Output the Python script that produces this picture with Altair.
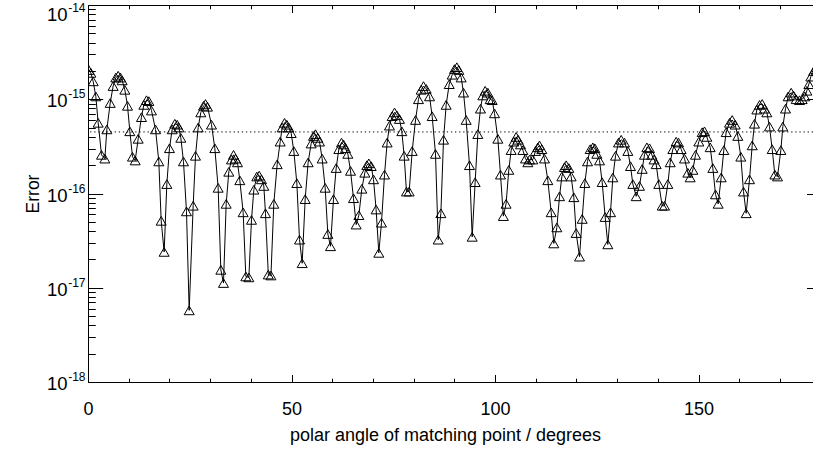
import altair as alt
import pandas as pd

# polar angle of matching point (degrees)
angles = [
    0.20, 0.70, 1.27, 1.92, 2.50, 3.32, 4.14, 4.63, 5.45, 6.18, 6.84, 7.41, 7.99, 8.39,
    9.05, 9.71, 10.28, 10.93, 11.59, 12.33, 13.14, 13.72, 14.37, 14.95, 15.60, 16.59,
    17.40, 17.98, 18.71, 19.37, 20.02, 20.68, 21.33, 21.91, 22.32, 22.81, 23.46, 24.20,
    24.86, 25.84, 26.41, 27.07, 27.72, 28.38, 28.87, 29.36, 30.34, 31.16, 31.98, 32.64,
    33.29, 33.95, 34.60, 35.26, 35.75, 36.24, 36.73, 37.30, 38.12, 38.78, 39.52, 40.17,
    40.75, 41.48, 42.06, 42.63, 43.20, 43.61, 44.30, 44.95, 45.65, 46.48, 47.22, 47.71,
    48.28, 48.85, 49.34, 49.92, 50.57, 51.31, 51.97, 52.62, 53.36, 54.09, 54.83, 55.40,
    55.89, 56.47, 56.88, 57.53, 58.27, 58.93, 59.58, 60.32, 60.98, 61.63, 62.29, 62.78,
    63.27, 63.84, 64.50, 65.23, 65.89, 66.55, 67.28, 68.02, 68.51, 69.00, 69.58, 70.15,
    70.79, 71.45, 72.11, 72.85, 73.50, 74.07, 74.73, 75.31, 75.88, 76.53, 77.10, 77.68,
    78.25, 78.91, 79.65, 80.47, 81.20, 81.86, 82.43, 83.09, 83.91, 84.56, 85.38, 86.04,
    86.70, 87.35, 88.00, 88.75, 89.48, 90.05, 90.62, 91.11, 91.69, 92.26, 92.91, 93.73,
    94.39, 95.12, 95.78, 96.43, 97.01, 97.58, 98.24, 98.81, 99.30, 99.88, 100.70, 101.35,
    102.05, 102.72, 103.39, 103.97, 104.62, 105.20, 105.69, 106.26, 106.84, 107.49, 108.07,
    108.48, 109.29, 109.95, 110.52, 110.93, 111.50, 112.16, 112.98, 113.80, 114.45, 115.19,
    115.85, 116.42, 117.08, 117.49, 118.14, 118.71, 119.37, 119.94, 120.76, 121.42, 122.07,
    122.73, 123.38, 124.04, 124.53, 125.02, 125.68, 126.33, 127.07, 127.72, 128.38, 128.95,
    129.61, 130.34, 131.00, 131.82, 132.64, 133.29, 133.87, 134.69, 135.50, 136.16, 136.73,
    137.31, 137.96, 138.53, 139.07, 139.60, 140.25, 141.07, 141.65, 142.46, 143.04, 143.69,
    144.51, 145.09, 145.74, 146.56, 147.38, 147.95, 148.61, 149.26, 150.08, 150.90, 151.47,
    152.05, 152.87, 153.52, 154.18, 154.83, 155.57, 156.22, 156.80, 157.62, 158.27, 159.01,
    159.66, 160.40, 161.06, 161.71, 162.53, 163.19, 163.76, 164.33, 164.99, 165.64, 166.22,
    166.79, 167.44, 168.10, 168.76, 169.41, 170.23, 170.72, 171.38, 172.03, 172.77, 173.34,
    174.00, 174.82, 175.47, 176.13, 176.62, 177.11, 177.60, 178.30, 179.00, 179.70,
]

# log10 of the error at each matching point
log_error = [
    -14.69, -14.72, -14.81, -14.97, -15.25, -15.59, -15.63, -15.32, -15.04, -14.86, -14.77, -14.75, -14.77, -14.80,
    -14.90, -15.07, -15.34, -15.61, -15.65, -15.42, -15.19, -15.06, -15.01, -15.02, -15.12, -15.32,
    -15.66, -16.29, -16.62, -15.90, -15.52, -15.32, -15.26, -15.27, -15.30, -15.41, -15.66, -16.19,
    -17.24, -16.13, -15.60, -15.30, -15.14, -15.07, -15.05, -15.08, -15.27, -15.52, -15.94, -16.81,
    -16.95, -16.11, -15.77, -15.64, -15.59, -15.63, -15.67, -15.86, -16.20, -16.88, -16.89, -16.28,
    -15.96, -15.82, -15.81, -15.85, -15.92, -16.21, -16.86, -16.87, -16.11, -15.69, -15.45, -15.30,
    -15.25, -15.27, -15.30, -15.36, -15.55, -15.89, -16.49, -16.74, -16.06, -15.67, -15.47, -15.39,
    -15.37, -15.41, -15.45, -15.63, -15.94, -16.43, -16.56, -16.06, -15.73, -15.53, -15.46, -15.48,
    -15.52, -15.58, -15.76, -16.05, -16.33, -16.23, -15.95, -15.78, -15.70, -15.68, -15.71, -15.85,
    -16.17, -16.63, -16.31, -15.80, -15.46, -15.28, -15.18, -15.14, -15.17, -15.21, -15.34, -15.60,
    -15.98, -15.98, -15.55, -15.22, -15.00, -14.90, -14.86, -14.89, -14.97, -15.18, -15.58, -16.49,
    -16.21, -15.43, -15.06, -14.84, -14.74, -14.68, -14.66, -14.69, -14.77, -14.93, -15.22, -15.70,
    -16.46, -15.88, -15.37, -15.10, -14.96, -14.91, -14.93, -15.00, -15.01, -15.15, -15.42, -15.80,
    -16.24, -16.11, -15.75, -15.54, -15.45, -15.40, -15.43, -15.48, -15.54, -15.63, -15.67,
    -15.64, -15.64, -15.55, -15.51, -15.49, -15.53, -15.63, -15.86, -16.20, -16.53, -16.36,
    -16.03, -15.82, -15.72, -15.70, -15.73, -15.82, -16.04, -16.42, -16.67, -16.27, -15.89,
    -15.66, -15.53, -15.51, -15.52, -15.58, -15.65, -15.88, -16.25, -16.54, -16.20, -15.83,
    -15.60, -15.46, -15.43, -15.46, -15.55, -15.71, -15.90, -16.03, -15.92, -15.74, -15.59,
    -15.51, -15.52, -15.59, -15.64, -15.69, -15.90, -16.13, -16.13, -15.90, -15.67, -15.53,
    -15.45, -15.46, -15.53, -15.63, -15.78, -15.83, -15.75, -15.59, -15.45, -15.35, -15.34,
    -15.40, -15.51, -15.73, -16.01, -16.11, -15.83, -15.54, -15.35, -15.25, -15.22, -15.27,
    -15.39, -15.61, -15.98, -16.21, -15.85, -15.49, -15.26, -15.11, -15.06, -15.05, -15.10,
    -15.14, -15.29, -15.53, -15.80, -15.82, -15.54, -15.29, -15.10, -14.97, -14.93, -14.96,
    -15.00, -15.01, -15.00, -14.97, -14.91, -14.84, -14.76, -14.70, -14.66, -14.65,
]

reference_level = [4.5e-16]

x_major = [0, 50, 100, 150]
x_minor = [10, 20, 30, 40, 60, 70, 80, 90, 110, 120, 130, 140, 160, 170]
y_major = [1e-18, 1e-17, 1e-16, 1e-15, 1e-14]
y_minor = [m * 10.0 ** e for e in range(-18, -14) for m in range(2, 10)]

W, H = 725, 377
XMAX = 178.13
FONT = "Liberation Sans"

df = pd.DataFrame({"angle": angles, "err": [10.0 ** v for v in log_error]})
ref_df = pd.DataFrame({"err": reference_level})

xs = alt.Scale(domain=[0, XMAX], nice=False, zero=False)
ys = alt.Scale(type="log", domain=[1e-18, 1e-14], nice=False)

base = alt.Chart(df)

TOP_TEST = "datum.value > 5e-15"


def tick_axis(orient, values, size, offset, domain=False):
    return alt.Axis(orient=orient, values=values, tickSize=size, offset=offset,
                    labels=False, domain=domain, domainColor="black", domainWidth=1,
                    ticks=True, tickColor="black", tickWidth=1, grid=False, title=None)


line = base.mark_line(color="black", strokeWidth=1, clip=True).encode(
    x=alt.X("angle:Q", scale=xs, axis=alt.Axis(
        orient="bottom", values=x_major, ticks=False, domain=True, domainColor="black",
        domainWidth=1, labelFontSize=18, labelPadding=18, labelFlush=False, labelColor="black",
        labelFont=FONT, grid=False, title="polar angle of matching point / degrees",
        titleFont=FONT, titleFontSize=18, titleFontWeight="normal", titleColor="black",
        titlePadding=8, titleX=357)),
    y=alt.Y("err:Q", scale=ys, axis=alt.Axis(
        orient="left", values=y_major, labelExpr="'10'", ticks=False, domain=True,
        domainColor="black", domainWidth=1, labelFontSize=18.5, labelPadding=21,
        labelColor="black", labelFont=FONT, labelBaseline="middle",
        labelOffset=alt.condition(TOP_TEST, alt.value(9.5), alt.value(1.5)), grid=False,
        title="Error", titleFont=FONT, titleFontSize=17.5, titleFontWeight="normal",
        titleColor="black", titlePadding=4)),
)

points = base.mark_point(shape="triangle-up", size=100, filled=False, color="black",
                         strokeWidth=1, opacity=1, clip=True).encode(
    x=alt.X("angle:Q", scale=xs, axis=None),
    y=alt.Y("err:Q", scale=ys, axis=alt.Axis(
        orient="left", values=y_major, labelExpr="'' + round(log(datum.value) / LN10)",
        ticks=False, domain=False, labelFontSize=12, labelPadding=3, labelColor="black",
        labelFont=FONT, labelBaseline="middle",
        labelOffset=alt.condition(TOP_TEST, alt.value(2.5), alt.value(-5.5)),
        grid=False, title=None)),
)

ref = alt.Chart(ref_df).mark_rule(color="black", strokeWidth=1, strokeDash=[1.3, 2.8]).encode(
    y=alt.Y("err:Q", scale=ys, axis=None)
)

ghost = base.mark_point(opacity=0)
t1 = ghost.encode(
    x=alt.X("angle:Q", scale=xs, axis=tick_axis("top", x_major, 7.5, -H)),
    y=alt.Y("err:Q", scale=ys, axis=tick_axis("right", y_major, 14.7, -W)),
)
t2 = ghost.encode(
    x=alt.X("angle:Q", scale=xs, axis=tick_axis("top", x_minor, 3.8, -H)),
    y=alt.Y("err:Q", scale=ys, axis=tick_axis("right", y_minor, 7.3, -W)),
)
t3 = ghost.encode(
    x=alt.X("angle:Q", scale=xs, axis=tick_axis("bottom", x_major, 7.5, -H, domain=True)),
    y=alt.Y("err:Q", scale=ys, axis=tick_axis("left", y_major, 6.5, -W)),
)
t4 = ghost.encode(
    x=alt.X("angle:Q", scale=xs, axis=tick_axis("bottom", x_minor, 3.8, -H)),
    y=alt.Y("err:Q", scale=ys, axis=None),
)

chart = alt.layer(ref, line, points, t1, t2, t3, t4).resolve_axis(
    x="independent", y="independent"
).properties(
    width=W, height=H,
    padding={"left": 88, "top": 5, "right": 0, "bottom": 69},
    autosize=alt.AutoSizeParams(type="none"),
    background="white",
).configure_view(stroke=None)

chart.save("out.html", embed_options={"renderer": "svg", "actions": False})
